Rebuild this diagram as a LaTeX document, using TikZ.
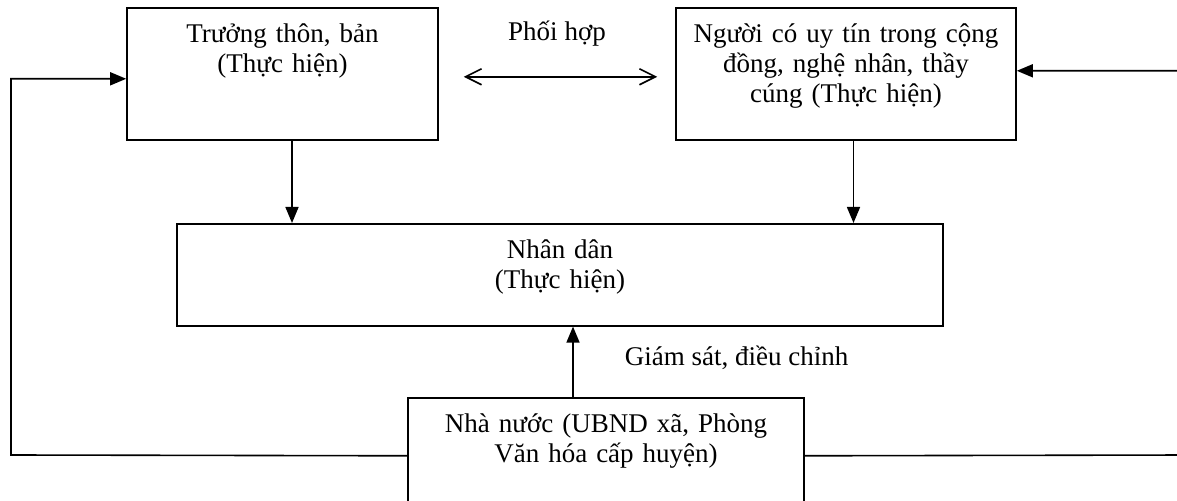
\documentclass[tikz,border=0pt]{standalone}
\usepackage{fontspec}
\setmainfont{Liberation Serif}
\usetikzlibrary{arrows.meta}

\begin{document}
\begin{tikzpicture}[x=0.5pt,y=-0.5pt,
  khung/.style={draw,line width=0.8pt,inner sep=0pt,align=center,anchor=north,text height=17.5pt,font=\fontsize{13.5pt}{15pt}\selectfont},
  nhan/.style={inner sep=0pt,font=\fontsize{13.5pt}{15pt}\selectfont},
  muiten/.style={line width=0.8pt,-{Triangle[length=8pt,width=6.5pt]}},
  haichieu/.style={line width=0.8pt,{Straight Barb[length=8pt,width=8pt]}-{Straight Barb[length=8pt,width=8pt]}}]
\useasboundingbox (0,0) rectangle (1177,501);

\node[khung,text width=155.5pt,text depth=48.5pt] (truongthon) at (282.5,7) {Trưởng thôn, bản\\(Thực hiện)};
\node[khung,text width=170pt,text depth=48.5pt] (nguoiuytin) at (846,7) {Người có uy tín trong cộng\\đồng, nghệ nhân, thầy\\cúng (Thực hiện)};
\node[khung,text width=383pt,text depth=33.5pt] (nhandan) at (560,223) {Nhân dân\\(Thực hiện)};
\node[khung,text width=198pt,text depth=40.5pt] (nhanuoc) at (606,397) {Nhà nước (UBND xã, Phòng\\Văn hóa cấp huyện)};

\coordinate (trai) at (11,455);
\coordinate (phai) at (1190,455);

\draw[haichieu,shorten <=12.5pt,shorten >=9pt] ([yshift=-1.5pt]truongthon.east) -- ([yshift=-1.5pt]nguoiuytin.west)
  node[nhan,midway,anchor=base,yshift=18pt] (phoihop) {Phối hợp};

\draw[muiten] ([xshift=4.75pt]truongthon.south) -- ([xshift=4.75pt]truongthon.south |- nhandan.north);
\draw[muiten] ([xshift=3.75pt]nguoiuytin.south) -- ([xshift=3.75pt]nguoiuytin.south |- nhandan.north);

\draw[muiten] ([xshift=-16.5pt]nhanuoc.north) -- ([xshift=-16.5pt]nhanuoc.north |- nhandan.south)
  node[nhan,midway,anchor=base west,xshift=25.5pt,yshift=-2pt] (giamsat) {Giám sát, điều chỉnh};

\draw[muiten] (nhanuoc.west) -- (trai) |- ([yshift=-2.5pt]truongthon.west);
\draw[muiten] (nhanuoc.east) -- (phai) |- ([yshift=1.5pt]nguoiuytin.east);
\end{tikzpicture}
\end{document}
